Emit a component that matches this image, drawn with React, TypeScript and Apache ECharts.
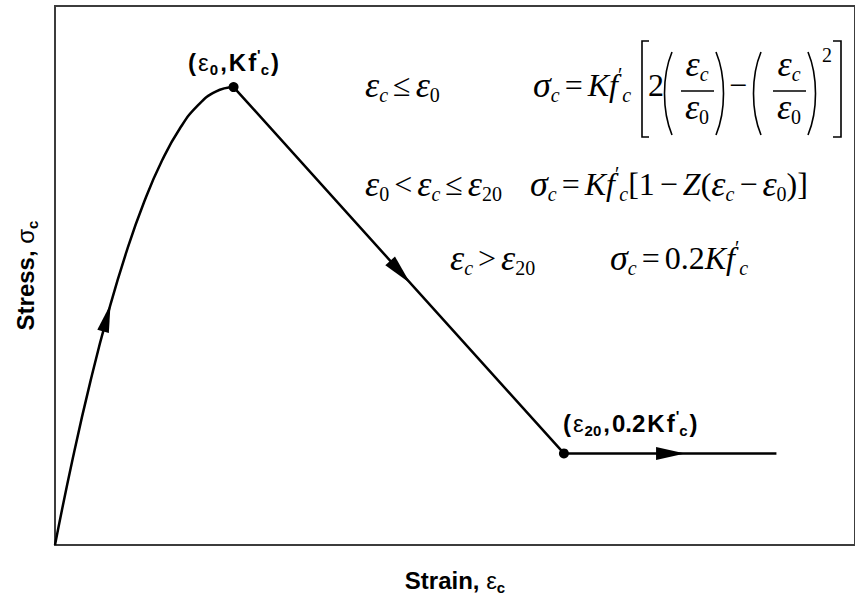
import React, { useEffect, useRef } from 'react';
import * as echarts from 'echarts';

// Normalised strain (ε/ε0) and stress (σ/Kf'c)
const riseStrain = [0, 0.1, 0.2, 0.3, 0.4, 0.5, 0.6, 0.7, 0.8, 0.9, 1.0];
const riseStress = [0, 0.19, 0.36, 0.51, 0.64, 0.75, 0.84, 0.91, 0.96, 0.99, 1.0];
const fallStrain = [1.0, 2.85, 4.04];
const fallStress = [1.0, 0.2, 0.2];
const keyStrain = [1.0, 2.85];
const keyStress = [1.0, 0.2];
const keyLabels = [
  '{b|(}{g|ε}{sb|0}{b|,}{b|K}{b|f}{sp|\'}{sb|c}{b|)}',
  '{b|(}{g|ε}{sb|20}{b|,}{b|0.2}{b|K}{b|f}{sp|\'}{sb|c}{b|)}',
];
const arrowStrain = [0.29, 1.933, 3.447];
const arrowStress = [0.496, 0.596, 0.2];
const xName = '{b|Strain, }{g|ε}{sb|c}';
const yName = '{b|Stress, }{g|σ}{sb|c}';

const X_MAX = 4.48;
const Y_MAX = 1.177;
const arrowRotate = [-15.4, -138, -90];
const arrowSize = [[12, 28], [13, 30], [13, 29]];

const SANS = "'Liberation Sans', Arial, sans-serif";
const SERIF = "'Liberation Serif', 'Times New Roman', serif";

const sansRich: any = {
  b: { fontFamily: SANS, fontWeight: 'bold', fontSize: 24, color: '#000', lineHeight: 30, padding: [0, 1, 0, 1] },
  g: { fontFamily: SANS, fontSize: 24, color: '#000', lineHeight: 30, padding: [0, 1, 0, 1] },
  sb: { fontFamily: SANS, fontWeight: 'bold', fontSize: 15, color: '#000', lineHeight: 15, verticalAlign: 'bottom', padding: [0, 1, 0, 0] },
  sp: { fontFamily: SANS, fontWeight: 'bold', fontSize: 15, color: '#000', lineHeight: 15, verticalAlign: 'top' },
};
const axisRich: any = {
  b: { fontFamily: SANS, fontWeight: 'bold', fontSize: 24, color: '#000', lineHeight: 30 },
  g: { fontFamily: SANS, fontSize: 24, color: '#000', lineHeight: 30 },
  sb: { fontFamily: SANS, fontWeight: 'bold', fontSize: 15, color: '#000', lineHeight: 15, verticalAlign: 'bottom' },
};

const base = { fontFamily: SERIF, fill: '#000', color: '#000' };
const fRich: any = {
  i: { ...base, fontStyle: 'italic', fontSize: 32, lineHeight: 40 },
  e: { ...base, fontStyle: 'italic', fontSize: 36, lineHeight: 40 },
  r: { ...base, fontSize: 32, lineHeight: 40 },
  o: { ...base, fontSize: 32, lineHeight: 40, padding: [0, 5, 0, 5] },
  s: { ...base, fontStyle: 'italic', fontSize: 20, lineHeight: 18, verticalAlign: 'bottom' },
  sr: { ...base, fontSize: 20, lineHeight: 18, verticalAlign: 'bottom' },
  p: { ...base, fontSize: 20, lineHeight: 24, verticalAlign: 'top' },
};

function ftext(x: number, y: number, text: string, align = 'left') {
  return {
    type: 'text',
    x,
    y,
    style: { text, rich: fRich, align, verticalAlign: 'middle', fill: '#000' },
  };
}
const stroke = { stroke: '#000', lineWidth: 1.6, fill: 'none' };
function paren(x: number, open: boolean) {
  const d = open ? -10 : 10;
  return {
    type: 'bezierCurve',
    shape: { x1: x, y1: 52, x2: x, y2: 135, cpx1: x + d, cpy1: 76, cpx2: x + d, cpy2: 111 },
    style: stroke,
  };
}

const graphic: any[] = [
  // line 1
  ftext(365, 85, '{e|ε}{s|c}{o|≤}{e|ε}{sr|0}'),
  ftext(533, 85, '{e|σ}{s|c}{o|=}{i|Kf}{p|′}{s|c}'),
  { type: 'polyline', shape: { points: [[649, 41], [642, 41], [642, 137], [649, 137]] }, style: stroke },
  ftext(656, 85, '{r|2}', 'center'),
  paren(672, true),
  ftext(697, 64, '{e|ε}{s|c}', 'center'),
  { type: 'line', shape: { x1: 681, y1: 91, x2: 714, y2: 91 }, style: stroke },
  ftext(697, 107, '{e|ε}{sr|0}', 'center'),
  paren(716, false),
  ftext(738, 85, '{r|−}', 'center'),
  paren(761, true),
  ftext(789, 64, '{e|ε}{s|c}', 'center'),
  { type: 'line', shape: { x1: 773, y1: 91, x2: 806, y2: 91 }, style: stroke },
  ftext(789, 107, '{e|ε}{sr|0}', 'center'),
  paren(808, false),
  {
    type: 'text', x: 827, y: 55,
    style: { text: '2', fontFamily: SERIF, fontSize: 20, fill: '#000', align: 'center', verticalAlign: 'middle' },
  },
  { type: 'polyline', shape: { points: [[833, 41], [841, 41], [841, 137], [833, 137]] }, style: stroke },
  // line 2
  ftext(365, 184, '{e|ε}{sr|0}{o|<}{e|ε}{s|c}{o|≤}{e|ε}{sr|20}'),
  ftext(530, 184, '{e|σ}{s|c}{o|=}{i|Kf}{p|′}{s|c}{r|[}{r|1}{o|−}{i|Z}{r|(}{e|ε}{s|c}{o|−}{e|ε}{sr|0}{r|)}{r|]}'),
  // line 3
  ftext(450, 258, '{e|ε}{s|c}{o|>}{e|ε}{sr|20}'),
  ftext(610, 258, '{e|σ}{s|c}{o|=}{r|0.2}{i|Kf}{p|′}{s|c}'),
];

const option: any = {
  animation: false,
  backgroundColor: '#fff',
  grid: { left: 55, top: 6, right: -3, bottom: 56, show: true, borderColor: '#3c3c3c', borderWidth: 2 },
  xAxis: {
    type: 'value', min: 0, max: X_MAX,
    axisLine: { show: false }, axisTick: { show: false }, axisLabel: { show: false }, splitLine: { show: false },
    name: xName, nameLocation: 'middle', nameGap: 20,
    nameTextStyle: { rich: axisRich },
  },
  yAxis: {
    type: 'value', min: 0, max: Y_MAX,
    axisLine: { show: false }, axisTick: { show: false }, axisLabel: { show: false }, splitLine: { show: false },
    name: yName, nameLocation: 'middle', nameGap: 15,
    nameTextStyle: { rich: axisRich },
  },
  series: [
    {
      type: 'line', smooth: true, symbol: 'none',
      lineStyle: { color: '#000', width: 2.5 },
      data: riseStrain.map((x, i) => [x, riseStress[i]]),
    },
    {
      type: 'line', symbol: 'none',
      lineStyle: { color: '#000', width: 2.5 },
      data: fallStrain.map((x, i) => [x, fallStress[i]]),
    },
    {
      type: 'scatter', symbol: 'triangle', z: 5,
      itemStyle: { color: '#000', opacity: 1 },
      data: arrowStrain.map((x, i) => ({
        value: [x, arrowStress[i]],
        symbolRotate: arrowRotate[i],
        symbolSize: arrowSize[i],
      })),
    },
    {
      type: 'scatter', symbol: 'circle', symbolSize: 10, z: 6,
      itemStyle: { color: '#000', opacity: 1 },
      data: keyStrain.map((x, i) => ({
        value: [x, keyStress[i]],
        label: i === 0
          ? { show: true, position: 'top', distance: 5, color: '#000', textBorderWidth: 0, formatter: keyLabels[i], rich: sansRich }
          : { show: true, position: [3, -25], align: 'left', verticalAlign: 'middle', color: '#000', textBorderWidth: 0, formatter: keyLabels[i], rich: sansRich },
      })),
    },
  ],
  graphic,
};

export default function App() {
  const ref = useRef<HTMLDivElement>(null);
  useEffect(() => {
    const chart = echarts.init(ref.current!, null, { renderer: 'svg' });
    chart.setOption(option);
    return () => chart.dispose();
  }, []);
  return (
    <div
      ref={ref}
      style={{ position: 'fixed', left: 0, top: 0, width: 855, height: 601, background: '#fff' }}
    />
  );
}
